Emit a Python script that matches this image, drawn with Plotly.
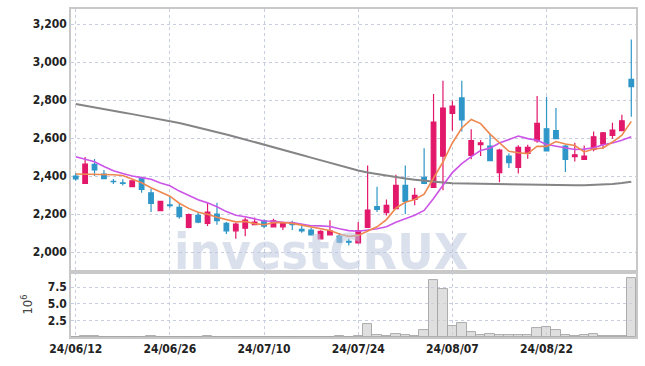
import plotly.graph_objects as go
from plotly.subplots import make_subplots

dates = ["24/06/12","24/06/13","24/06/14","24/06/17","24/06/18","24/06/19","24/06/20","24/06/21","24/06/24","24/06/25",
         "24/06/26","24/06/27","24/06/28","24/07/01","24/07/02","24/07/03","24/07/04","24/07/05","24/07/08","24/07/09",
         "24/07/10","24/07/11","24/07/12","24/07/15","24/07/16","24/07/17","24/07/18","24/07/19","24/07/22","24/07/23",
         "24/07/24","24/07/25","24/07/26","24/07/29","24/07/30","24/07/31","24/08/01","24/08/02","24/08/05","24/08/06",
         "24/08/07","24/08/08","24/08/09","24/08/12","24/08/13","24/08/14","24/08/16","24/08/19","24/08/20","24/08/21",
         "24/08/22","24/08/23","24/08/26","24/08/27","24/08/28","24/08/29","24/08/30","24/09/02","24/09/03","24/09/04"]

open_ = [2400,2362,2462,2410,2372,2364,2344,2390,2312,2218,2248,2235,2130,2193,2151,2200,2151,2112,2126,2144,
         2165,2133,2133,2151,2120,2116,2070,2091,2084,2056,2049,2130,2239,2207,2228,2351,2277,2393,2340,2505,
         2730,2811,2509,2565,2558,2418,2505,2446,2519,2585,2649,2639,2558,2502,2488,2540,2568,2614,2639,2909]
high = [2415,2500,2490,2432,2385,2383,2378,2396,2333,2270,2295,2256,2203,2210,2260,2260,2158,2154,2182,2182,
        2172,2175,2160,2165,2137,2130,2115,2168,2100,2070,2158,2456,2344,2277,2407,2456,2337,2547,2832,2902,
        2796,2902,2646,2590,2621,2544,2519,2562,2565,2821,2817,2758,2565,2575,2561,2635,2632,2681,2723,3119]
low = [2375,2360,2400,2385,2358,2351,2342,2312,2211,2215,2235,2175,2125,2152,2137,2144,2095,2070,2084,2144,
       2126,2133,2116,2116,2102,2090,2068,2090,2046,2035,2047,2128,2211,2193,2226,2200,2246,2360,2338,2326,
       2638,2635,2488,2505,2480,2368,2442,2414,2491,2575,2530,2595,2421,2477,2486,2530,2544,2597,2637,2712]
close = [2385,2463,2432,2386,2370,2362,2375,2330,2256,2267,2244,2186,2197,2158,2211,2165,2112,2147,2168,2158,
         2137,2165,2151,2145,2112,2091,2109,2112,2053,2052,2112,2221,2225,2246,2351,2267,2298,2362,2684,2758,
         2768,2695,2586,2575,2481,2537,2470,2551,2551,2677,2533,2597,2488,2512,2505,2607,2628,2642,2691,2870]

ma5 = [2411,2410,2410,2409,2407,2403,2385,2365,2339,2318,2294,2257,2230,2210,2199,2183,2169,2159,2161,2150,
       2144,2155,2156,2151,2142,2133,2122,2114,2095,2083,2088,2110,2133,2171,2231,2262,2277,2305,2392,2474,
       2574,2653,2698,2676,2621,2575,2530,2523,2518,2557,2556,2582,2569,2561,2527,2542,2548,2579,2615,2688]
ma10 = [2502,2490,2475,2450,2428,2413,2400,2392,2383,2363,2349,2321,2297,2275,2259,2239,2213,2194,2186,2175,
        2164,2162,2157,2156,2146,2139,2138,2135,2123,2113,2110,2116,2123,2133,2157,2175,2194,2219,2282,2352,
        2418,2465,2502,2534,2547,2574,2592,2611,2597,2589,2566,2556,2546,2540,2542,2549,2565,2574,2588,2607]
ma60 = [2779,2771,2762,2753,2744,2735,2726,2717,2709,2700,2691,2679,2667,2656,2644,2632,2619,2606,2593,2580,
        2567,2553,2539,2525,2511,2497,2483,2470,2456,2443,2429,2419,2410,2401,2393,2387,2381,2375,2370,2366,
        2362,2361,2360,2359,2358,2357,2356,2355,2354,2353,2353,2353,2352,2352,2352,2353,2355,2358,2363,2370]

volume_m = [0.05,0.15,0.15,0.05,0.04,0.04,0.05,0.05,0.12,0.05,0.04,0.04,0.05,0.04,0.12,0.05,0.04,0.04,0.05,0.04,
            0.05,0.04,0.04,0.05,0.04,0.04,0.05,0.05,0.12,0.05,0.08,2.0,0.25,0.15,0.4,0.25,0.15,1.0,8.6,7.2,
            1.7,2.1,0.8,0.25,0.5,0.25,0.25,0.25,0.25,1.3,1.5,1.0,0.3,0.15,0.25,0.4,0.15,0.15,0.15,8.85]

price_ticks = [2000, 2200, 2400, 2600, 2800, 3000, 3200]
vol_ticks = [2.5, 5.0, 7.5]
date_ticks = [dates[i] for i in range(0, 60, 10)]

UP = "#e2186b"
DOWN = "#2f96c8"
GRID = "#c9cde0"
FONT = "DejaVu Sans Condensed"

fig = make_subplots(rows=2, cols=1, shared_xaxes=True, vertical_spacing=0,
                    row_heights=[0.802, 0.198])

fig.add_trace(go.Candlestick(
    x=dates, open=open_, high=high, low=low, close=close,
    increasing=dict(line=dict(color=UP, width=1.2), fillcolor=UP),
    decreasing=dict(line=dict(color=DOWN, width=1.2), fillcolor=DOWN),
    whiskerwidth=0, showlegend=False, hoverinfo="skip"), row=1, col=1)

fig.add_trace(go.Scatter(x=dates, y=ma60, mode="lines",
                         line=dict(color="#858585", width=2), showlegend=False), row=1, col=1)
fig.add_trace(go.Scatter(x=dates, y=ma10, mode="lines",
                         line=dict(color="#cc55e8", width=1.6), showlegend=False), row=1, col=1)
fig.add_trace(go.Scatter(x=dates, y=ma5, mode="lines",
                         line=dict(color="#ee8850", width=1.6), showlegend=False), row=1, col=1)

fig.add_trace(go.Bar(x=dates, y=volume_m,
                     marker=dict(color="rgba(210,210,210,0.7)",
                                 line=dict(color="rgba(165,165,165,0.9)", width=1)),
                     showlegend=False), row=2, col=1)

axis_common = dict(showline=True, linecolor="#c8c8c8", linewidth=1.5, mirror=True,
                   gridcolor=GRID, griddash="dot", gridwidth=1, zeroline=False,
                   automargin=False,
                   tickfont=dict(family=FONT, size=12, color="#222", weight="bold"))

fig.update_xaxes(type="category", range=[-0.5, 59.5], tickmode="array",
                 tickvals=date_ticks, ticktext=date_ticks, ticks="",
                 rangeslider=dict(visible=False), **axis_common)
fig.update_xaxes(showticklabels=False, row=1, col=1)

fig.update_yaxes(range=[1895, 3279], tickmode="array", tickvals=price_ticks,
                 tickformat=",d", ticks="", row=1, col=1, **axis_common)
fig.update_yaxes(range=[0, 9.75], tickmode="array", tickvals=vol_ticks,
                 tickformat=".1f", ticks="", row=2, col=1,
                 title=dict(text="10<sup>6</sup>", standoff=12,
                            font=dict(family=FONT, size=13, color="#444")),
                 **axis_common)

fig.add_annotation(text="<b>investCRUX</b>", xref="paper", yref="paper",
                   x=0.443, y=0.165, xanchor="center", yanchor="bottom",
                   showarrow=False,
                   font=dict(family="DejaVu Sans Condensed", size=50,
                             color="rgba(190,198,222,0.55)"))

fig.update_layout(width=645, height=366, margin=dict(l=71, r=9, t=9, b=29),
                  paper_bgcolor="white", plot_bgcolor="white", bargap=0,
                  boxgap=0.3, font=dict(family=FONT), hovermode=False)

fig.write_html("out.html", config={"displayModeBar": False},
               post_script="document.body.style.margin='0';")
